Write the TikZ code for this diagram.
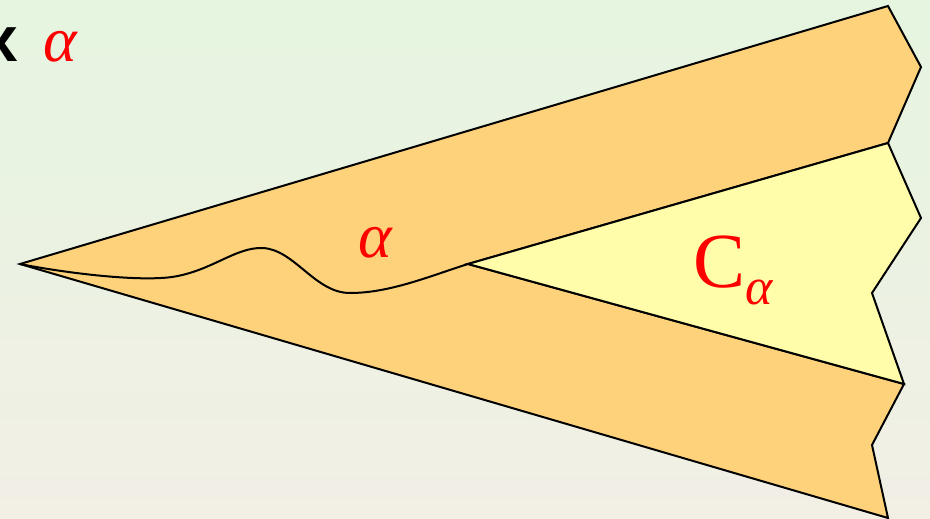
\documentclass[tikz,border=0pt]{standalone}
\usepackage{fontspec}
\setmainfont{Liberation Serif}
\newfontfamily\glyphsans{Liberation Sans}
\usepackage{xcolor}
\definecolor{bgtop}{RGB}{229,245,224}
\definecolor{bgbot}{RGB}{242,239,229}
\definecolor{wingorange}{RGB}{253,210,122}
\definecolor{wingyellow}{RGB}{255,252,170}

\begin{document}
\begin{tikzpicture}[
    x=1pt, y=-1pt,
    edge/.style={draw=black, line width=2pt, line join=miter},
    lbl/.style={text=red, inner sep=0pt},
]
\useasboundingbox (0,0) rectangle (930,519);

% --- background ---
\shade[top color=bgtop, bottom color=bgbot] (0,0) rectangle (930,519);

% --- key points of the plane ---
\coordinate (tip)   at (20,264);
\coordinate (notch) at (468,264);
\coordinate (tr)    at (888,6);
\coordinate (tz)    at (921,67);
\coordinate (um)    at (888,143);
\coordinate (mz)    at (921,218);
\coordinate (mi)    at (872,293);
\coordinate (lm)    at (904,384);
\coordinate (lz)    at (872,445);
\coordinate (br)    at (888,518);

% --- orange wing and yellow region C ---
\path[edge, fill=wingorange] (tip) -- (tr) -- (tz) -- (um) -- (notch)
     -- (lm) -- (lz) -- (br) -- cycle;
\path[edge, fill=wingyellow] (notch) -- (um) -- (mz) -- (mi) -- (lm) -- cycle;

% wavy curve alpha from the tip to the notch
\draw[edge] (tip) .. controls (60,272) and (135,282) .. (172,277)
     .. controls (212,271) and (235,247) .. (263,248)
     .. controls (295,250) and (315,293) .. (350,293)
     .. controls (390,293) and (430,276) .. (notch);

% --- labels ---
\node[inner sep=0pt, font=\glyphsans\bfseries\fontsize{64}{64}\selectfont] (cross) at (0,45) {x};
\node[lbl, font=\itshape\fontsize{64}{64}\selectfont] (topalpha) at (60,47) {α};
\node[lbl, font=\itshape\fontsize{64}{64}\selectfont] (alpha) at (375,243) {α};
\node[lbl, anchor=base west, font=\fontsize{78}{78}\selectfont] (calpha) at (693,287)
     {C\raisebox{-0.22em}{\itshape\fontsize{52}{52}\selectfont α}};

\end{tikzpicture}
\end{document}
